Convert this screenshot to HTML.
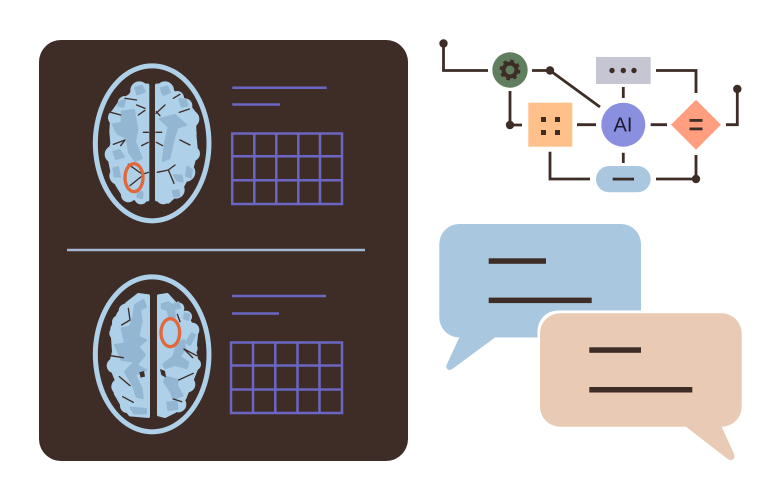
<!DOCTYPE html>
<html><head><meta charset="utf-8"><style>
html,body{margin:0;padding:0;background:#fff;width:781px;height:500px;overflow:hidden}
svg{display:block}
.l{fill:#aed0e8}
.b{fill:#aed0e8;stroke:#aed0e8;stroke-width:8;stroke-linejoin:round}
.d{fill:#93b7d3;stroke:#93b7d3;stroke-width:6;stroke-linejoin:round}
.s{fill:none;stroke:#3e2c27;stroke-width:4;stroke-linecap:round;stroke-linejoin:round}
</style></head><body>
<svg width="781" height="500" viewBox="0 0 781 500" xmlns="http://www.w3.org/2000/svg">
<rect x="39" y="40" width="369" height="421" rx="22" fill="#3e2c27"/>
<line x1="67" y1="250" x2="365" y2="250" stroke="#a3b6d2" stroke-width="2.400"/>
<g stroke="#6a67c4" stroke-width="2.500" fill="none">
<path d="M232.300 87.700H326.700M232.300 104.500H280"/>
<path d="M232.200 133.500H342V204H232.200ZM254.300 133.500V204M276.300 133.500V204M298.300 133.500V204M320 133.500V204M232.200 156.300H342M232.200 180.300H342"/>
<path d="M232 296H326M232 313.500H279"/>
<path d="M231 342.500H342V413H231ZM253 342.500V413M275.300 342.500V413M297.500 342.500V413M319.500 342.500V413M231 365.500H342M231 389.500H342"/>
</g>

<!-- brain 1 -->
<g transform="translate(80,55) scale(0.3333)">
<path fill-rule="evenodd" d="M216.500 25A178 240 0 1 1 216.400 25ZM216.500 40A163 225 0 1 0 216.600 40Z" fill="#aed0e8"/>
<path class="b" d="M204 90 170 88 150 120 120 140 95 175 92 230 95 265 85 300 95 350 110 390 135 430 204 435Z"/>
<g class="l"><circle cx="178" cy="106" r="27"/><circle cx="135" cy="145" r="22"/><circle cx="108" cy="188" r="24"/><circle cx="112" cy="235" r="22"/><circle cx="100" cy="298" r="26"/><circle cx="116" cy="362" r="28"/><circle cx="145" cy="420" r="22"/><circle cx="183" cy="428" r="20"/></g>
<path class="d" d="M165 98 185 92 195 110 172 118ZM118 140 135 135 130 155 115 152ZM125 170 162 165 172 225 165 260 185 310 165 318 147 292 140 250 112 235 98 208 125 203ZM100 290 118 285 132 305 108 312ZM100 340 114 336 120 365 104 365ZM175 408 188 412 186 430 172 425Z"/>
<path class="s" d="M135 130 170 135M170 150 195 160M175 180 195 166M92 172 122 180M190 232 205 232M185 272 205 262M100 268 135 255 122 272M145 328 190 360 150 392M190 357 205 352"/>
<path class="b" d="M229 90 262 88 285 115 315 135 345 175 345 235 350 290 335 345 300 410 265 442 229 435Z"/>
<g class="l"><circle cx="255" cy="106" r="27"/><circle cx="292" cy="128" r="20"/><circle cx="315" cy="152" r="22"/><circle cx="332" cy="192" r="26"/><circle cx="328" cy="235" r="22"/><circle cx="338" cy="296" r="22"/><circle cx="318" cy="352" r="28"/><circle cx="288" cy="405" r="26"/><circle cx="250" cy="426" r="22"/></g>
<path class="d" d="M242 100 262 94 270 112 250 120ZM298 132 318 135 322 152 305 155ZM240 192 285 180 318 210 292 218 282 250 268 310 248 318 256 260 266 216ZM322 335 336 345 332 368 318 362ZM282 360 305 362 308 380 290 376ZM278 408 296 406 298 424 282 424Z"/>
<path class="s" d="M228 175 255 150M240 182 229 170M280 130 300 118M298 172 328 162M228 232 245 232M248 272 229 262M300 255 330 270M232 352 265 345 282 385M265 345 285 330"/>
<ellipse cx="162" cy="368" rx="27" ry="42" fill="none" stroke="#e0683a" stroke-width="10"/>
</g>

<!-- brain 2 -->
<g transform="translate(80,265) scale(0.3333)">
<path fill-rule="evenodd" d="M216.500 28A178 240 0 1 1 216.400 28ZM216.500 43A163 225 0 1 0 216.600 43Z" fill="#aed0e8"/>
<path class="b" d="M206 92 175 88 140 115 115 145 95 190 100 260 90 300 110 350 105 385 125 420 150 450 206 455Z"/>
<g class="l"><circle cx="180" cy="110" r="24"/><circle cx="138" cy="138" r="22"/><circle cx="118" cy="172" r="22"/><circle cx="108" cy="205" r="20"/><circle cx="116" cy="245" r="20"/><circle cx="102" cy="302" r="22"/><circle cx="118" cy="365" r="24"/><circle cx="142" cy="422" r="22"/><circle cx="185" cy="435" r="22"/></g>
<path class="d" d="M165 120 190 105 198 125 180 135 185 170 175 215 198 225 175 245 195 270 170 300 198 315 165 330 185 370 188 400 170 395 160 365 135 320 165 290 125 285 105 240 135 235 125 190 150 185 160 155ZM152 428 198 432 198 445 162 445Z"/>
<path class="s" d="M145 130 150 165 125 180M92 272 130 278M118 335 150 362M128 395 160 412"/>
<path d="M178 322 192 318 195 335 182 338Z" fill="#3e2c27"/>
<path class="b" d="M235 92 262 88 300 130 330 170 350 210 345 260 355 300 335 350 315 400 285 440 255 455 235 450Z"/>
<g class="l"><circle cx="258" cy="112" r="22"/><circle cx="318" cy="155" r="18"/><circle cx="295" cy="130" r="18"/><circle cx="336" cy="195" r="22"/><circle cx="335" cy="250" r="18"/><circle cx="345" cy="298" r="18"/><circle cx="322" cy="358" r="24"/><circle cx="295" cy="418" r="24"/><circle cx="255" cy="435" r="20"/></g>
<path class="d" d="M245 118 265 112 275 120 295 112 300 128 282 132 285 155 268 158 262 135 246 130ZM315 145 328 150 325 165 312 160ZM335 205 345 210 330 240 318 232ZM290 238 312 225 315 250 300 275 325 292 320 310 285 300 255 310 250 298 280 275ZM258 335 295 345 290 360 308 392 280 402 272 380 252 350ZM262 412 290 410 292 432 265 435Z"/>
<path class="s" d="M300 170 292 148M350 272 312 252 338 278M296 345 340 325M280 402 305 410"/>
<path d="M255 318 240 312 244 330 258 338Z" fill="#3e2c27"/>
<ellipse cx="271" cy="203" rx="28" ry="42" fill="none" stroke="#e0683a" stroke-width="10"/>
</g>

<!-- flow -->
<g fill="none" stroke="#3e2c27" stroke-width="2.800">
<path d="M443.500 43.500V70.500H488M532 70.500H550L600 107M510 91V125H522M577 124.700H596M623.300 87V98M623.300 152.700V163M550 151.700V179H590M656 179H696V155M650.700 124.700H667M656 70.500H696V93M726 124.700H737.300V89"/>
</g>
<g fill="#3e2c27">
<circle cx="443.500" cy="43.500" r="4.200"/><circle cx="550" cy="70.500" r="4.200"/><circle cx="510" cy="125" r="4.200"/><circle cx="696" cy="179" r="4.200"/><circle cx="737.300" cy="89" r="4.200"/>
</g>
<circle cx="510" cy="70" r="17.700" fill="#617e5f"/>
<circle cx="510" cy="70" r="6.500" fill="none" stroke="#3e2c27" stroke-width="4"/>
<circle cx="510" cy="70" r="9" fill="none" stroke="#3e2c27" stroke-width="2.800" stroke-dasharray="3.500 3.570"/>
<rect x="528.300" y="102.700" width="44" height="44" fill="#ffc08a"/>
<g fill="#3e2c27"><rect x="541" y="117" width="5" height="5"/><rect x="555" y="117" width="5" height="5"/><rect x="541" y="130" width="5" height="5"/><rect x="555" y="130" width="5" height="5"/></g>
<rect x="596" y="57" width="54.700" height="27" fill="#c6c6d2"/>
<g fill="#3e2c27"><circle cx="612" cy="70.500" r="2.700"/><circle cx="623.300" cy="70.500" r="2.700"/><circle cx="634" cy="70.500" r="2.700"/></g>
<circle cx="623.300" cy="124.700" r="22" fill="#8b8fe0"/>
<text x="623" y="131.700" font-family="Liberation Sans, sans-serif" font-size="20" fill="#1f1a2c" text-anchor="middle">AI</text>
<rect x="596" y="166" width="54.700" height="26.300" rx="13.150" fill="#a9c8e0"/>
<rect x="612.700" y="177.700" width="21.300" height="2.800" fill="#3e2c27"/>
<path d="M696 99.700 721 124.700 696 149.700 671 124.700Z" fill="#ff9f7f"/>
<g fill="#3e2c27"><rect x="689.500" y="119" width="13" height="2.800"/><rect x="689.500" y="127.500" width="13" height="2.800"/></g>

<!-- chat -->
<path d="M459.300 224H621A20 20 0 0 1 641 244V337.500H495L453 368.500C449 372 444.500 368.500 447 364L459.300 337.500A20 20 0 0 1 439.300 317.500V244A20 20 0 0 1 459.300 224Z" fill="#a9c8e0"/>
<path d="M641 310.500H558A20.500 20.500 0 0 0 537.500 331V338H641Z" fill="#fff"/>
<path d="M560 313.300H721.700A20 20 0 0 1 741.700 333.300V406.700A20 20 0 0 1 721.700 426.700L734 454C736 459 731 462 727 458.500L686 426.700H560A20 20 0 0 1 540 406.700V333.300A20 20 0 0 1 560 313.300Z" fill="#e9cab5"/>
<g fill="#3e2c27">
<rect x="488.700" y="258.300" width="57.300" height="5.500"/><rect x="488.700" y="297.600" width="103" height="5.500"/>
<rect x="589.300" y="347.300" width="51.700" height="5.500"/><rect x="589.300" y="387" width="103" height="5.500"/>
</g>
</svg>
</body></html>
